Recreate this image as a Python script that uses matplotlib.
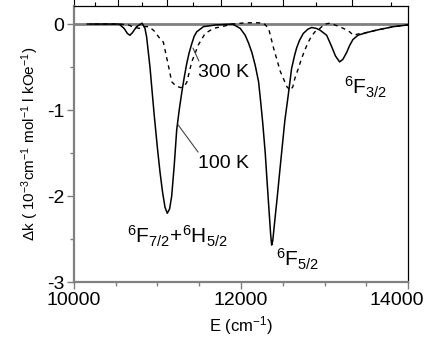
import numpy as np
import matplotlib
matplotlib.use("Agg")
import matplotlib.pyplot as plt
import matplotlib.transforms as mtransforms

# 100 K curve (solid)
e_100k = [10200, 10400, 10540, 10600, 10640, 10670, 10700, 10750, 10815, 10850,
          10870, 10910, 10960, 11000, 11030, 11060, 11090, 11117, 11145, 11170,
          11200, 11230, 11260, 11290, 11320, 11350, 11380, 11410, 11440, 11470,
          11550, 11700, 11900, 11990, 12050, 12090, 12130, 12170, 12210, 12235,
          12260, 12290, 12310, 12330, 12355, 12367, 12380, 12405, 12435, 12465,
          12495, 12525, 12565, 12605, 12640, 12665, 12700, 12745, 12800, 12845,
          12900, 12945, 13025, 13080, 13130, 13180, 13220, 13265, 13300, 13340,
          13400, 13500, 13625, 13825, 14000]
dk_100k = [0.0, 0.0, 0.0, -0.05, -0.11, -0.13, -0.10, -0.03, 0.01, -0.05,
           -0.15, -0.50, -1.05, -1.45, -1.72, -1.95, -2.13, -2.20, -2.15, -2.00,
           -1.65, -1.23, -1.00, -0.80, -0.62, -0.46, -0.33, -0.23, -0.14, -0.09,
           -0.03, -0.01, 0.0, -0.05, -0.13, -0.22, -0.33, -0.48, -0.67, -0.90,
           -1.15, -1.50, -1.80, -2.09, -2.45, -2.57, -2.52, -2.28, -2.00, -1.70,
           -1.41, -1.12, -0.83, -0.52, -0.37, -0.28, -0.19, -0.11, -0.06, -0.04,
           -0.05, -0.07, -0.13, -0.25, -0.37, -0.44, -0.41, -0.33, -0.25, -0.18,
           -0.13, -0.10, -0.07, -0.03, -0.01]

# 300 K curve (dashed)
e_300k = [10150, 10550, 10650, 10700, 10780, 10850, 10900, 10960, 11030, 11070,
          11130, 11170, 11220, 11280, 11320, 11350, 11410, 11490, 11570, 11670,
          11770, 11900, 12000, 12070, 12200, 12270, 12330, 12390, 12470, 12550,
          12590, 12620, 12645, 12685, 12725, 12765, 12805, 12845, 12885, 12945,
          13000, 13065, 13150, 13225, 13300, 13345, 13425, 13500, 13625, 13825,
          14000]
dk_300k = [0.0, 0.0, -0.01, -0.03, -0.05, -0.03, -0.03, -0.08, -0.17, -0.21,
           -0.48, -0.67, -0.72, -0.74, -0.72, -0.68, -0.44, -0.24, -0.11, -0.05,
           -0.03, 0.0, 0.01, 0.015, 0.015, 0.01, -0.05, -0.28, -0.55, -0.73,
           -0.77, -0.73, -0.63, -0.52, -0.40, -0.30, -0.21, -0.14, -0.09, -0.05,
           0.0, 0.01, -0.02, -0.05, -0.09, -0.13, -0.11, -0.10, -0.07, -0.03,
           -0.01]

# wavelength ticks (nm) on the top axis
nm_major = [1000, 950, 900, 850, 800, 750]
nm_minor = [975, 925, 875, 825, 775, 725]

plt.rcParams['font.family'] = ['Liberation Sans', 'DejaVu Sans']
plt.rcParams['mathtext.fontset'] = 'custom'
plt.rcParams['mathtext.rm'] = 'Liberation Sans'
plt.rcParams['mathtext.it'] = 'Liberation Sans:italic'
plt.rcParams['mathtext.default'] = 'regular'

fig = plt.figure(figsize=(4.3, 3.53), dpi=100)
ax = fig.add_axes([0.172, 0.201, 0.777, 0.782])

gray = '#808080'
ax.axhline(0, color=gray, lw=2.0, zorder=1)
ax.plot(e_100k, dk_100k, color='black', lw=1.1, zorder=3)
ax.plot(e_300k, dk_300k, color='black', lw=1.0, ls=(0, (3, 3)), zorder=2)

ax.set_xlim(10000, 14000)
ax.set_ylim(-3, 0.21)
ax.set_xticks([10000, 12000, 14000])
ax.set_xticks(np.arange(10000, 14001, 500), minor=True)
ax.set_yticks([-3, -2, -1, 0])
ax.set_yticklabels(['-3', '-2', '-1', '0'])
ax.set_yticks(np.arange(-3, 0.01, 0.5), minor=True)
ax.tick_params(which='major', direction='out', length=5, width=1, color=gray,
               labelsize=14, pad=2)
ax.tick_params(which='minor', direction='out', length=3, width=1, color=gray)
ax.tick_params(axis='y', which='both', right=False)

# last x label sits a little to the left, as in the original
shift = mtransforms.ScaledTranslation(-8 / 72, 0, fig.dpi_scale_trans)
lab = ax.get_xticklabels()[-1]
lab.set_transform(lab.get_transform() + shift)

for s in ['left', 'bottom']:
    ax.spines[s].set_color(gray)
    ax.spines[s].set_linewidth(1.6)
for s in ['top', 'right']:
    ax.spines[s].set_color('black')
    ax.spines[s].set_linewidth(0.9)

top = ax.secondary_xaxis('top', functions=(lambda x: 1e7 / x, lambda x: 1e7 / x))
top.set_xticks(nm_major)
top.set_xticks(nm_minor, minor=True)
top.tick_params(which='major', direction='out', length=5, width=0.8, labeltop=False)
top.tick_params(which='minor', direction='out', length=3, width=0.8)
top.spines['top'].set_visible(False)

ax.set_xlabel('E (cm$^{-1}$)', fontsize=12, labelpad=4)
ax.set_ylabel(r'$\Delta$k ( 10$^{-3}$cm$^{-1}$ mol$^{-1}$ l kOe$^{-1}$)',
              fontsize=11, labelpad=4)

ax.annotate('300 K', xy=(11425, -0.28), xytext=(11480, -0.56), fontsize=14,
            ha='left', va='center',
            arrowprops=dict(arrowstyle='-', color='#444444', lw=0.8,
                            relpos=(0.05, 1.0), shrinkA=0, shrinkB=0))
ax.annotate('100 K', xy=(11245, -1.17), xytext=(11480, -1.62), fontsize=14,
            ha='left', va='center',
            arrowprops=dict(arrowstyle='-', color='#444444', lw=0.8,
                            relpos=(0.05, 1.0), shrinkA=0, shrinkB=0))

ax.text(10630, -2.55, '$^{6}$F$_{7/2}$+$^{6}$H$_{5/2}$', fontsize=15)
ax.text(12420, -2.82, '$^{6}$F$_{5/2}$', fontsize=15)
ax.text(13230, -0.82, '$^{6}$F$_{3/2}$', fontsize=15)

fig.savefig('out.png', dpi=100)
